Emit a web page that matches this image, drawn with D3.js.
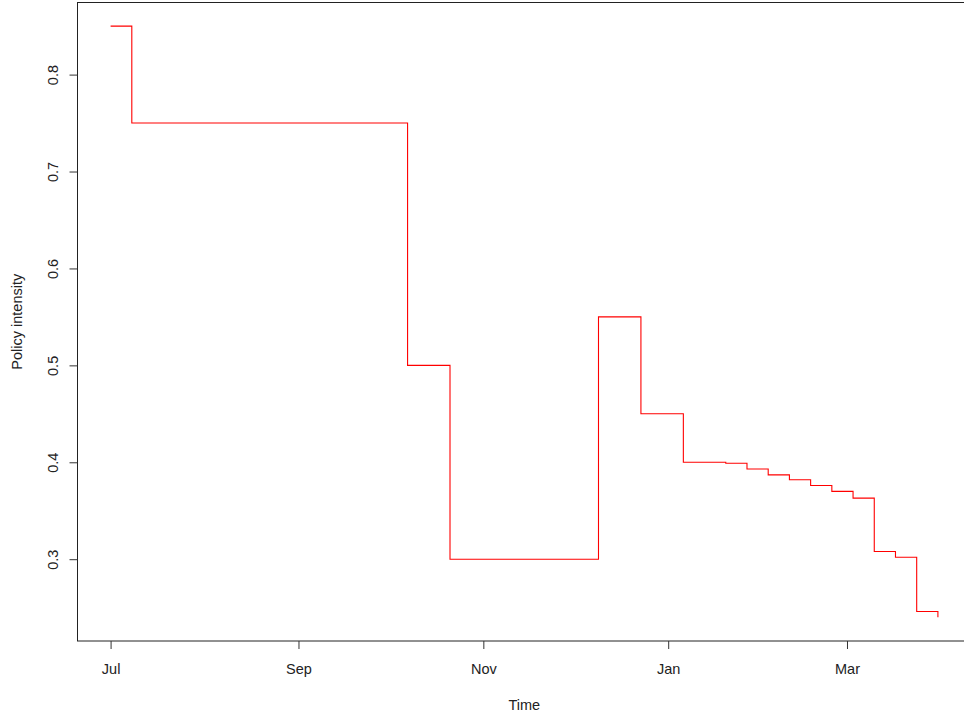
<!DOCTYPE html>
<html>
<head>
<meta charset="utf-8">
<script src="https://cdn.jsdelivr.net/npm/d3@7/dist/d3.min.js"></script>
<style>
  html, body { margin: 0; padding: 0; background: #fff; }
  svg { display: block; }
  text { font-family: "Liberation Sans", Arial, sans-serif; fill: #222; }
</style>
</head>
<body>
<svg id="chart" width="964" height="715"></svg>
<script>
// Weekly observations (step plot, R type = "s")
const dates = [
  "2020-07-01","2020-07-08","2020-07-15","2020-07-22","2020-07-29",
  "2020-08-05","2020-08-12","2020-08-19","2020-08-26","2020-09-02",
  "2020-09-09","2020-09-16","2020-09-23","2020-09-30","2020-10-07",
  "2020-10-14","2020-10-21","2020-10-28","2020-11-04","2020-11-11",
  "2020-11-18","2020-11-25","2020-12-02","2020-12-09","2020-12-16",
  "2020-12-23","2020-12-30","2021-01-06","2021-01-13","2021-01-20",
  "2021-01-27","2021-02-03","2021-02-10","2021-02-17","2021-02-24",
  "2021-03-03","2021-03-10","2021-03-17","2021-03-24","2021-03-31"
];
const policyIntensity = [
  0.85, 0.75, 0.75, 0.75, 0.75,
  0.75, 0.75, 0.75, 0.75, 0.75,
  0.75, 0.75, 0.75, 0.75, 0.50,
  0.50, 0.30, 0.30, 0.30, 0.30,
  0.30, 0.30, 0.30, 0.55, 0.55,
  0.45, 0.45, 0.400, 0.400, 0.399,
  0.393, 0.387, 0.382, 0.376, 0.370,
  0.363, 0.308, 0.302, 0.246, 0.240
];
const yTicks = [0.3, 0.4, 0.5, 0.6, 0.7, 0.8];
const xTickDates = ["2020-07-01","2020-09-01","2020-11-01","2021-01-01","2021-03-01"];
const xTickLabels = ["Jul","Sep","Nov","Jan","Mar"];
const xLabel = "Time";
const yLabel = "Policy intensity";

const parse = d3.utcParse("%Y-%m-%d");
const data = dates.map((d, i) => ({ date: parse(d), value: policyIntensity[i] }));

const box = { left: 77.5, right: 971, top: 2.5, bottom: 641 };

// R-style 4% padding of the data range
function pad(ext) {
  const r = ext[1] - ext[0];
  return [ext[0] - 0.04 * r, ext[1] + 0.04 * r];
}
const xExt = d3.extent(data, d => +d.date);
const xDom = pad(xExt);
const x = d3.scaleUtc().domain([new Date(xDom[0]), new Date(xDom[1])]).range([box.left, box.right]);
const y = d3.scaleLinear().domain(pad(d3.extent(policyIntensity))).range([box.bottom, box.top]);

const svg = d3.select("#chart");

// plot box
svg.append("rect")
  .attr("x", box.left).attr("y", box.top)
  .attr("width", box.right - box.left).attr("height", box.bottom - box.top)
  .attr("fill", "none").attr("stroke", "#222").attr("stroke-width", 1);

// step line
const line = d3.line()
  .x(d => x(d.date))
  .y(d => y(d.value))
  .curve(d3.curveStepAfter);
svg.append("path")
  .datum(data)
  .attr("d", line)
  .attr("fill", "none")
  .attr("stroke", "#ff0000")
  .attr("stroke-width", 1.1);

// x axis
const xAxis = d3.axisBottom(x)
  .tickValues(xTickDates.map(parse))
  .tickFormat((d, i) => xTickLabels[i])
  .tickSizeInner(8).tickSizeOuter(0).tickPadding(15);
const gx = svg.append("g").attr("transform", `translate(0,${box.bottom})`).call(xAxis);
gx.select(".domain").remove();
gx.selectAll("line").attr("stroke", "#333");
gx.selectAll("text").attr("font-size", "14.5px").attr("fill", "#222")
  .style("font-family", '"Liberation Sans", Arial, sans-serif');

// y axis
const yAxis = d3.axisLeft(y)
  .tickValues(yTicks)
  .tickFormat(d3.format(".1f"))
  .tickSizeInner(8).tickSizeOuter(0).tickPadding(0);
const gy = svg.append("g").attr("transform", `translate(${box.left},0)`).call(yAxis);
gy.select(".domain").remove();
gy.selectAll("line").attr("stroke", "#333");
gy.selectAll("text")
  .attr("font-size", "14.5px").attr("fill", "#222")
  .style("font-family", '"Liberation Sans", Arial, sans-serif')
  .attr("x", null).attr("dy", null)
  .attr("text-anchor", "middle")
  .attr("transform", "translate(-20,0) rotate(-90)");

// axis titles
svg.append("text")
  .attr("x", (box.left + box.right) / 2).attr("y", 710)
  .attr("text-anchor", "middle").attr("font-size", "14.5px")
  .text(xLabel);
svg.append("text")
  .attr("transform", `translate(22,${(box.top + box.bottom) / 2}) rotate(-90)`)
  .attr("text-anchor", "middle").attr("font-size", "14.5px")
  .text(yLabel);
</script>
</body>
</html>
